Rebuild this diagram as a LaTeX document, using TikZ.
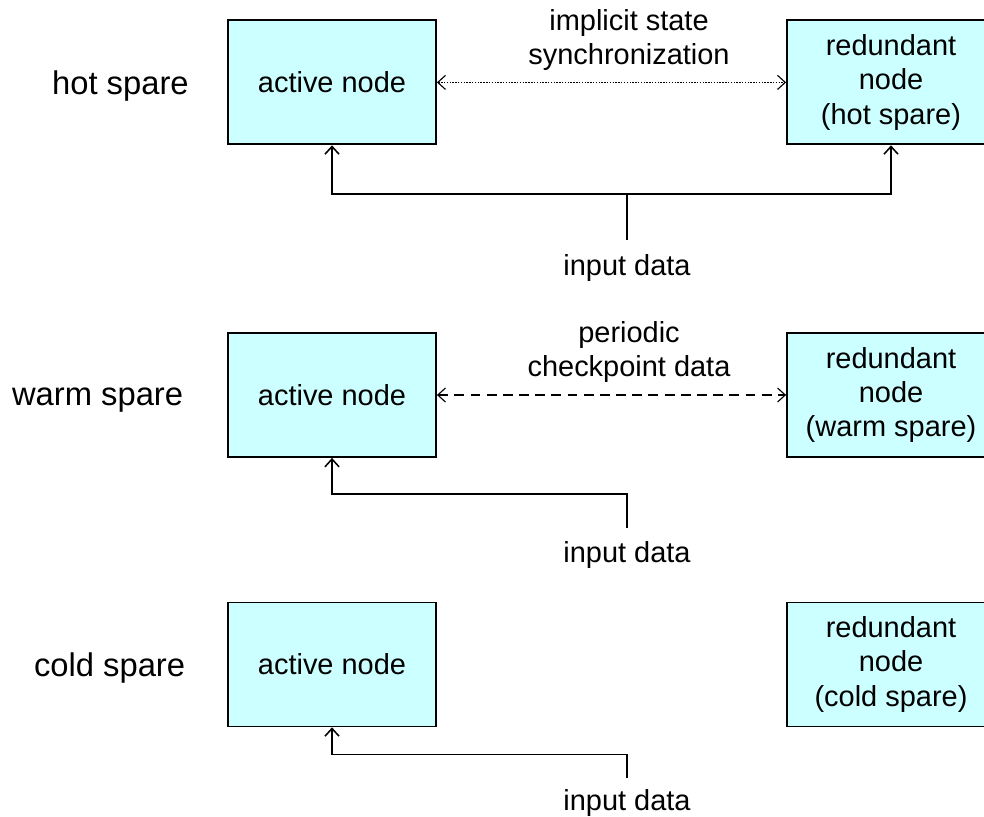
\documentclass[tikz,border=0pt]{standalone}
\usepackage{fontspec}
\setmainfont{Liberation Sans}
\usepackage{xcolor}
\usetikzlibrary{arrows.meta,positioning,calc}

\definecolor{boxcyan}{HTML}{CCFFFF}

\tikzset{
    unit/.style={draw, line width=1.3pt, fill=boxcyan, minimum width=5.2cm,
                 minimum height=3.1cm, align=center},
    rowlabel/.style={font=\fontsize{23.3}{28}\selectfont},
    feed/.style={line width=1.1pt, -{Straight Barb[length=5.5pt,width=10pt]}},
    sync/.style={line width=0.8pt, {Straight Barb[length=5.5pt,width=10pt]}-{Straight Barb[length=5.5pt,width=10pt]}},
}

\begin{document}
\begin{tikzpicture}[font=\fontsize{20.6}{24.5}\selectfont]
            \useasboundingbox (0,0) rectangle (24.6,-20.4);

            % hot spare
            \node[rowlabel] (lblhot) at (3.01,-2.14) {hot spare};
            \node[unit] (active1) at (8.3,-2.06) {active node};
            \node[unit] (spare1) at (22.275,-2.06) {redundant\\node\\(hot spare)};
            \node[align=center] (syncnote) at (15.725,-1.0) {implicit state\\synchronization};
            \draw[sync, dash pattern=on 1pt off 1pt] (active1.east) -- (spare1.west);
            \node (data1) at (15.675,-6.7) {input data};
            \coordinate (in1) at (15.675,-6.0);
            \coordinate (fork1) at (15.675,-4.85);
            \draw[feed] (in1) -- (fork1) -| (active1.south);
            \draw[feed] (fork1) -| (spare1.south);

            % warm spare
            \node[rowlabel] (lblwarm) at (2.44,-10.0) {warm spare};
            \node[unit] (active2) at (8.3,-9.875) {active node};
            \node[unit] (spare2) at (22.275,-9.875) {redundant\\node\\(warm spare)};
            \node[align=center] (ckptnote) at (15.725,-8.8) {periodic\\checkpoint data};
            \draw[sync, dash pattern=on 7pt off 4.5pt] (active2.east) -- (spare2.west);
            \node (data2) at (15.675,-13.875) {input data};
            \coordinate (in2) at (15.675,-13.2);
            \draw[feed] (in2) |- ($(active2.south)+(0,-0.9)$) -- (active2.south);

            % cold spare
            \node[rowlabel] (lblcold) at (2.74,-16.7) {cold spare};
            \node[unit] (active3) at (8.3,-16.61) {active node};
            \node[unit] (spare3) at (22.275,-16.61) {redundant\\node\\(cold spare)};
            \node (data3) at (15.675,-20.07) {input data};
            \coordinate (in3) at (15.675,-19.45);
            \draw[feed] (in3) |- ($(active3.south)+(0,-0.68)$) -- (active3.south);
        \end{tikzpicture}
\end{document}
